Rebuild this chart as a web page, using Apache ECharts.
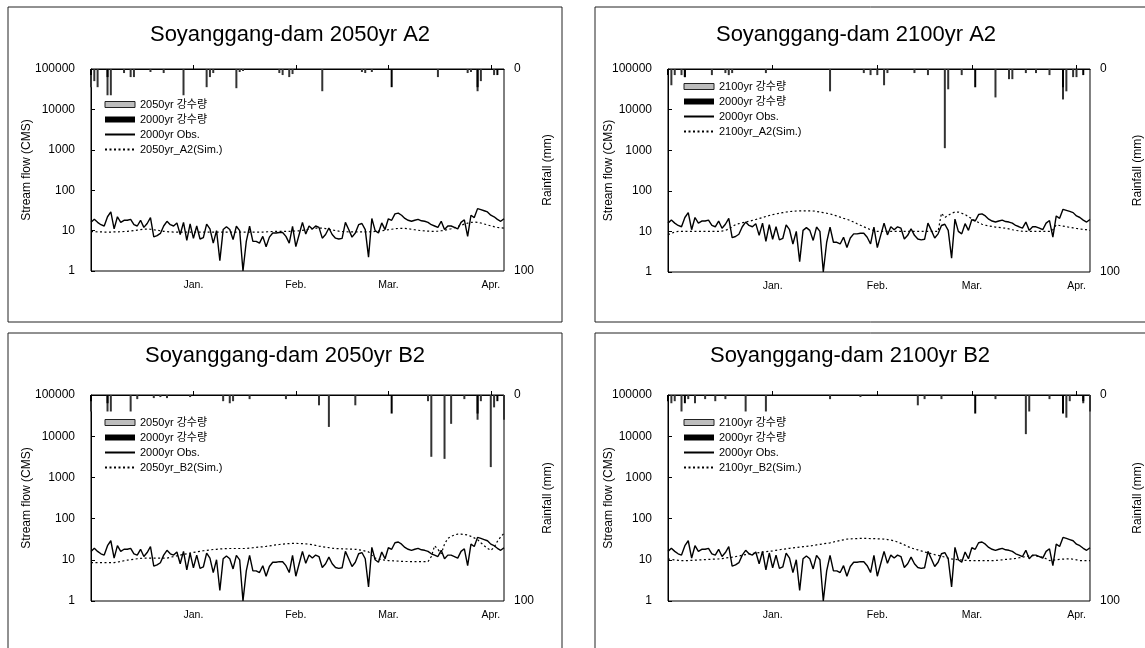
<!DOCTYPE html>
<html><head><meta charset="utf-8">
<script src="https://cdn.jsdelivr.net/npm/echarts@6/dist/echarts.min.js"></script>
<style>html,body{margin:0;padding:0;background:#fff}#c{width:1145px;height:648px}</style>
</head><body><div id="c"></div>
<script>
const FONT = "'Liberation Sans','Noto Sans CJK KR',sans-serif";

// Daily categories, Dec 1 - Apr 5
const monthSpans = [['12', 31], ['01', 31], ['02', 28], ['03', 31], ['04', 5]];
const days = [];
monthSpans.forEach(([m, n]) => { for (let d = 1; d <= n; d++) days.push(m + '-' + (d < 10 ? '0' + d : d)); });
const monthLabels = {'01-01': 'Jan.', '02-01': 'Feb.', '03-01': 'Mar.', '04-01': 'Apr.'};

// 2000yr observed stream flow (CMS)
const obs2000 = [
  16,19,16,14,13,22,29,11,22,16,
  18,18,19,14,13,18,12,15,21,7,
  7.5,8.5,13,17,14,13,15.5,8,16,5.7,
  14.6,6.4,13,6.2,6.7,14.5,11,4.9,10,1.8,
  10.6,12.4,10.6,6,12.8,10,1,5.4,12.8,5.4,
  5.4,4.9,7.2,4,6.9,8.7,8.7,9,9,7.2,
  4.9,12.8,4,8,16,8.2,13,11,13,12,
  6.5,8,11.6,8,6.5,6.2,6.4,16,10.6,6.9,
  8.7,14,15,10.6,2.2,20,10,8.7,15.5,10.6,
  19.6,18,26,27,24,20,18,17,18,19,
  17.5,17,16,14,13,12,17,10.6,13,13,
  12,11,16,18.5,7.2,24,21,35,33,31,
  29,24,22,19,17,19.6
];

// Simulated stream flow (CMS)
const simA2_2050 = [
  9.5,9.4,9.3,9.3,9.2,9.2,9.2,9.3,9.3,9.4,
  9.5,9.6,9.8,10,10.3,10.6,10.8,10.9,10.8,10.5,
  10.2,9.9,9.6,9.4,9.3,9.2,9.2,9.2,9.2,9.2,
  9.2,9.2,9.2,9.2,9.2,9.2,9.2,9.2,9.2,9.2,
  9.2,9.2,9.2,9.2,9.2,9.2,9.2,9.2,9.2,9.2,
  9.2,9.2,9.2,9.3,9.4,9.5,9.6,9.6,9.6,9.6,
  9.6,9.7,9.8,9.9,10.1,10.4,10.8,11.2,11.5,11.6,
  11.5,11.2,10.8,10.4,10,9.7,9.5,9.4,9.3,9.3,
  9.3,9.3,9.3,9.3,9.3,9.4,9.5,9.7,9.9,10.2,
  10.5,10.8,11.1,11.3,11.4,11.3,11.1,10.8,10.5,10.2,
  10,9.8,9.7,9.6,9.6,9.7,9.9,10.2,10.6,11.1,
  11.8,12.6,13.5,14.5,15.3,15.9,16.2,16,15.4,14.6,
  13.8,13.1,12.5,12,11.7,11.5
];
const simA2_2100 = [
  8.3,9,9.6,10,10,10,10,10,10,10,
  10,10,10,10,10,10,10.2,10.6,11.5,13,
  14.6,15.5,16.3,17,17.8,18.6,19.6,20.8,22,23.3,
  24.6,25.8,27,28,29,30,30.8,31.4,31.8,32,
  32,32,32,31.8,31,30,29,28,27,25.5,
  24,22.5,21,20,18.5,17,15.5,14.2,13,12,
  11,10.5,10,10,10,10,10,10,10,10,
  10,10,10,10,10,10,10,10,10,10,
  10,28,22,25,28,30,30,28,26,23,
  20.5,18.5,16.5,15,14.2,13.6,13.2,12.8,12.5,12.2,
  12,11.5,11,10.6,10.3,10.1,10,10,10,10,
  10,10,10,10,11,14.5,14,13.5,13,12.6,
  12.2,11.8,11.5,11.2,11,10.6
];
const simB2_2050 = [
  8.5,8.5,8.5,8.5,8.5,8.5,8.5,8.5,8.8,9.1,
  9.5,9.8,10,10.3,10.6,10.8,11,11,11,11,
  11,11,11,11,11.5,12,12.5,13,13.5,14,
  14.6,15.1,15.6,16.1,16.6,17,17.4,17.8,18,18.3,
  18.5,18.7,18.8,18.8,18.8,18.8,18.8,18.8,19.2,19.6,
  20,20.4,20.7,21.2,21.8,22.4,23,23.5,24,24.4,
  24.8,25,25,24.8,24.6,24.3,24,23.2,22.4,21.5,
  20.7,20.2,19.7,19.2,18.8,18.6,18.5,18.4,18.2,18.1,
  18,17.5,17,16.3,15.6,13,11,10.5,10,9.8,
  9.6,9.5,9.4,9.3,9.2,9.1,9.1,9,9,9,
  9,9,9,12,22,18,14,24,33,37,
  40,42,42,41,40,37,34,31,26,22,
  19,17,20,28,36,44
];
const simB2_2100 = [
  10.5,10.2,9.9,9.7,9.6,9.6,9.6,9.7,9.8,9.9,
  10,10.1,10.2,10.3,10.4,10.5,10.7,11,11.3,11.6,
  12,12.4,12.9,13.4,13.9,14.2,14.5,14.9,15.3,15.7,
  16.1,16.5,17,17.5,18,18.5,19,19.4,19.8,20.3,
  20.8,21.2,21.6,22.3,23,23.7,24.4,25.1,25.8,27,
  28.2,29.4,30.6,31.8,32.2,32.5,32.8,33,33,33,
  32.8,32.6,32.4,32.1,31.8,31,30,29,27,25,
  23,21,19.4,18.4,17.4,16.4,15.5,14.8,14.1,13.4,
  12.8,12.2,11.6,11,10.5,10.3,10.1,9.9,9.7,9.6,
  9.6,9.6,9.6,9.6,9.6,9.6,9.6,9.6,9.8,10,
  10.2,10.4,10.5,10.8,11.2,11.6,12,12.4,12.8,12.4,
  12,11.6,10.6,9.6,9.8,10,10.2,10.4,10.5,10.6,
  10.3,10,9.6,9.6,9.6,9.6
];

// Rainfall (mm): [date, mm]
const rain2000 = [['12-01',3],['12-06',4],['03-02',9],['03-28',9],['04-03',3]];
const rainA2_2050 = [['12-01',9],['12-02',6],['12-03',9],['12-06',13],['12-07',13],['12-11',2],['12-13',4],['12-14',4],['12-19',1.5],['12-23',2],['12-29',13],['01-05',9],['01-06',4],['01-07',2],['01-14',9.5],['01-15',1.5],['01-16',1],['01-27',2],['01-28',3],['01-30',4],['01-31',2.5],['02-09',11],['02-21',1.5],['02-22',2],['02-24',1.5],['03-16',4],['03-25',2],['03-26',1.5],['03-28',11],['03-29',6],['04-02',3]];
const rainA2_2100 = [['12-02',8],['12-03',3],['12-05',3],['12-06',4],['12-14',3],['12-18',2],['12-19',3],['12-20',2],['12-30',2],['01-18',11],['01-28',2],['01-30',3],['02-01',3],['02-03',8],['02-04',2],['02-12',2],['02-16',3],['02-21',39],['02-22',10],['02-26',3],['03-08',14],['03-12',5],['03-13',5],['03-17',2],['03-20',2],['03-24',3],['03-28',15],['03-29',11],['03-31',4],['04-01',4]];
const rainB2_2050 = [['12-01',8],['12-06',8],['12-07',8],['12-13',8],['12-15',2],['12-20',1.5],['12-22',1],['12-24',1.5],['12-31',1],['01-10',3],['01-12',4],['01-13',3],['01-18',2],['01-29',2],['02-08',5],['02-11',15.5],['02-19',5],['03-13',3],['03-14',30],['03-18',31],['03-20',14],['03-24',2],['03-28',12],['03-29',3],['04-01',35],['04-02',6],['04-05',12]];
const rainB2_2100 = [['12-02',4],['12-03',3],['12-05',8],['12-07',2],['12-09',4],['12-12',2],['12-15',3],['12-18',2],['12-24',8],['12-30',8],['01-18',2],['01-27',1],['02-13',5],['02-15',2],['02-20',2],['03-08',2],['03-17',19],['03-18',8],['03-24',2],['03-29',11],['03-30',3],['04-03',4],['04-05',8]];

const panels = [
  {title: 'Soyanggang-dam 2050yr A2', scen: '2050yr 강수량', simName: '2050yr_A2(Sim.)', rain: rainA2_2050, sim: simA2_2050,
   grid: {left: 91, top: 69, width: 413, height: 202}, tx: 290, ty: 35, lg: {left: 104, top: 98}, box: [8, 7, 554, 315], gapL: 58, gapR: 38},
  {title: 'Soyanggang-dam 2100yr A2', scen: '2100yr 강수량', simName: '2100yr_A2(Sim.)', rain: rainA2_2100, sim: simA2_2100,
   grid: {left: 668, top: 69, width: 422, height: 203}, tx: 856, ty: 35, lg: {left: 683, top: 80}, box: [595, 7, 560, 315], gapL: 53, gapR: 42},
  {title: 'Soyanggang-dam 2050yr B2', scen: '2050yr 강수량', simName: '2050yr_B2(Sim.)', rain: rainB2_2050, sim: simB2_2050,
   grid: {left: 91, top: 395, width: 413, height: 206}, tx: 285, ty: 356, lg: {left: 104, top: 416}, box: [8, 333, 554, 330], gapL: 58, gapR: 38},
  {title: 'Soyanggang-dam 2100yr B2', scen: '2100yr 강수량', simName: '2100yr_B2(Sim.)', rain: rainB2_2100, sim: simB2_2100,
   grid: {left: 668, top: 395, width: 422, height: 206}, tx: 850, ty: 356, lg: {left: 683, top: 416}, box: [595, 333, 560, 330], gapL: 53, gapR: 42}
];

const isMonth = (idx, val) => !!monthLabels[val];
const option = {
  animation: false,
  backgroundColor: '#fff',
  textStyle: {fontFamily: FONT, color: '#000'},
  grid: panels.map(p => Object.assign({show: true, borderColor: '#000', borderWidth: 1, backgroundColor: 'transparent'}, p.grid)),
  xAxis: panels.map((p, i) => ({
    type: 'category', gridIndex: i, data: days, boundaryGap: false,
    axisLine: {show: true, lineStyle: {color: '#000', width: 1}},
    axisTick: {show: true, inside: true, length: 4, interval: isMonth, lineStyle: {color: '#000'}},
    axisLabel: {interval: isMonth, formatter: v => monthLabels[v] || '', fontSize: 10.5, color: '#000', margin: 9, fontFamily: FONT},
    splitLine: {show: false}
  })),
  yAxis: [],
  series: [],
  legend: [],
  graphic: []
};

panels.forEach((p, i) => {
  option.yAxis.push({
    type: 'log', gridIndex: i, min: 1, max: 100000, logBase: 10, position: 'left',
    name: 'Stream flow (CMS)', nameLocation: 'middle', nameGap: p.gapL, nameRotate: 90, nameMoveOverlap: false,
    nameTextStyle: {fontSize: 12, fontFamily: FONT, color: '#000'},
    axisLine: {show: true, lineStyle: {color: '#000'}},
    axisTick: {show: true, inside: true, length: 4, lineStyle: {color: '#000'}},
    axisLabel: {fontSize: 12, color: '#000', margin: 16, fontFamily: FONT, formatter: v => String(Math.round(v))},
    splitLine: {show: false}
  });
  option.yAxis.push({
    type: 'value', gridIndex: i, position: 'right', inverse: true, min: 0, max: 100, interval: 100,
    name: 'Rainfall (mm)', nameLocation: 'middle', nameGap: p.gapR, nameRotate: 90, nameMoveOverlap: false,
    nameTextStyle: {fontSize: 12, fontFamily: FONT, color: '#000'},
    axisLine: {show: false}, axisTick: {show: false},
    axisLabel: {fontSize: 12, color: '#000', margin: 10, fontFamily: FONT},
    splitLine: {show: false}
  });
  option.series.push(
    {type: 'bar', name: p.scen, xAxisIndex: i, yAxisIndex: 2 * i + 1, data: p.rain, barWidth: 2, barGap: '-100%', itemStyle: {color: '#333'}, silent: true},
    {type: 'bar', name: '2000yr 강수량', xAxisIndex: i, yAxisIndex: 2 * i + 1, data: rain2000, barWidth: 2, barGap: '-100%', itemStyle: {color: '#000'}, silent: true},
    {type: 'line', name: '2000yr Obs.', xAxisIndex: i, yAxisIndex: 2 * i, data: obs2000, symbol: 'none', lineStyle: {color: '#000', width: 1.4}, itemStyle: {color: '#000'}, silent: true},
    {type: 'line', name: p.simName, xAxisIndex: i, yAxisIndex: 2 * i, data: p.sim, symbol: 'none', lineStyle: {color: '#000', width: 1.2, type: [2, 2.5]}, itemStyle: {color: '#000'}, silent: true}
  );
  option.legend.push({
    left: p.lg.left, top: p.lg.top, orient: 'vertical', padding: 0, itemGap: 2, itemWidth: 30, itemHeight: 6,
    selectedMode: false,
    textStyle: {fontSize: 11, fontFamily: FONT, color: '#000', lineHeight: 13},
    data: [
      {name: p.scen, icon: 'rect', itemStyle: {color: '#bdbdbd', borderColor: '#222', borderWidth: 1}},
      {name: '2000yr 강수량', icon: 'rect', itemStyle: {color: '#000'}},
      {name: '2000yr Obs.', itemStyle: {color: 'rgba(0,0,0,0)', borderWidth: 0}},
      {name: p.simName, itemStyle: {color: 'rgba(0,0,0,0)', borderWidth: 0}}
    ]
  });
  option.graphic.push({
    type: 'rect', shape: {x: p.box[0], y: p.box[1], width: p.box[2], height: p.box[3]},
    style: {fill: 'none', stroke: '#222', lineWidth: 1}, silent: true, z: -1
  });
  option.graphic.push({
    type: 'text', x: p.tx, y: p.ty, silent: true,
    style: {text: p.title, fill: '#000', font: '22px ' + FONT, textAlign: 'center', textVerticalAlign: 'middle'}
  });
});

const chart = echarts.init(document.getElementById('c'), null, {renderer: 'canvas'});
chart.setOption(option);
</script>
</body></html>
